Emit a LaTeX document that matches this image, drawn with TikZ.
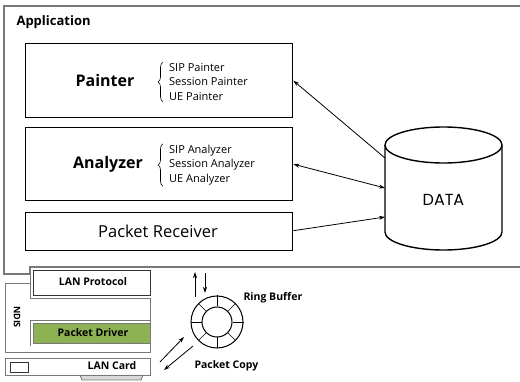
\documentclass[tikz,border=0pt]{standalone}
\usepackage{fontspec}
\setmainfont{Open Sans}
\newfontfamily\datafont{Poppins}
\usetikzlibrary{arrows.meta}
\usetikzlibrary{decorations.pathreplacing}
\usetikzlibrary{calc}
\definecolor{frame}{RGB}{120,120,120}
\definecolor{driver}{RGB}{141,178,84}
\tikzset{
	box/.style={draw,line width=1.4pt,anchor=north west,inner sep=0pt},
	hwbox/.style={draw=black!80,line width=0.9pt,anchor=north west,inner sep=0pt},
	gframe/.style={draw=frame,line width=1.2pt},
	title/.style={font=\fontsize{16}{18}\selectfont\bfseries},
	itemlist/.style={font=\fontsize{11}{14.5}\selectfont,align=left,anchor=west,inner sep=1pt},
	hwtext/.style={font=\fontsize{10.5}{12}\selectfont\bfseries},
	arr/.style={-{Stealth[length=6pt,width=4pt]},line width=0.8pt},
	dblarr/.style={{Stealth[length=6pt,width=4pt]}-{Stealth[length=6pt,width=4pt]},line width=0.8pt},
	lbrace/.style={decorate,decoration={brace,amplitude=5pt},line width=0.6pt}
}

\begin{document}
\begin{tikzpicture}[x=1pt,y=-1pt]
	\useasboundingbox (0,0) rectangle (520,382);

	% application frame
	\draw[gframe] (521,6) -- (4,6) -- (4,274) -- (30,274) -- (30,267) -- (521,267);
	\node[anchor=west,font=\fontsize{13}{15}\selectfont\bfseries] (app) at (13,22) {Application};

	\node[box,minimum width=267pt,minimum height=74pt] (painter) at (25,43) {};
	\node[title] (paintertxt) at (105,81) {Painter};
	\node[itemlist] (painterlist) at (168,82) {SIP Painter\\Session Painter\\UE Painter};
	\draw[lbrace] ([xshift=-5pt]painterlist.south west) -- ([xshift=-5pt]painterlist.north west);

	\node[box,minimum width=267pt,minimum height=73pt] (analyzer) at (25,127) {};
	\node[title] (analyzertxt) at (108,164) {Analyzer};
	\node[itemlist] (analyzerlist) at (168,165) {SIP Analyzer\\Session Analyzer\\UE Analyzer};
	\draw[lbrace] ([xshift=-5pt]analyzerlist.south west) -- ([xshift=-5pt]analyzerlist.north west);

	\node[box,minimum width=267pt,minimum height=38pt] (receiver) at (25,212) {};
	\node[font=\fontsize{16.5}{19}\selectfont] (receivertxt) at (158,231) {Packet Receiver};

	% data store
	\draw[line width=1.4pt,fill=white] (385,145) -- (385,232) arc[start angle=180,end angle=360,x radius=58.5pt,y radius=18pt] -- (502,145);
	\draw[line width=1.4pt] (443.5,145) ellipse[x radius=58.5pt,y radius=18pt];
	\node[font=\datafont\fontsize{16}{18}\selectfont] (data) at (443.5,200) {DATA};
	\coordinate (dbtop) at (385,158);
	\coordinate (dbmid) at (385,188);
	\coordinate (dblow) at (385,217);

	\draw[arr] (dbtop) -- (painter.east);
	\draw[dblarr] (analyzer.east) -- (dbmid);
	\draw[arr] ([yshift=1pt]receiver.east) -- (dblow);

	% NDIS
	\draw[gframe,line width=0.9pt] (30,267) -- (30,298) -- (150,298) -- (150,352) -- (5,352) -- (5,283) -- (30,283);
	\node[hwbox,minimum width=117pt,minimum height=25pt] (lanproto) at (33,270) {};
	\node[hwtext] (lanprototxt) at (93,282) {LAN Protocol};
	\node[rotate=-90,font=\fontsize{9}{11}\selectfont\bfseries] (ndis) at (17,317) {NDIS};
	\draw[gframe,line width=0.9pt] (30,346) -- (30,320) -- (150,320);
	\node[hwbox,fill=driver,draw=frame,minimum width=117pt,minimum height=20pt] (driver) at (33,323) {};
	\node[hwtext] (drivertxt) at (93,333) {Packet Driver};

	% LAN card
	\filldraw[draw=frame,fill=black!15,line width=0.9pt] (80,375) -- (82,380) -- (141,380) -- (143,375);
	\node[hwbox,draw=frame,minimum width=145pt,minimum height=17pt] (lancard) at (5,358) {};
	\draw[line width=0.9pt,draw=black!80] (10,362) rectangle (28,372);
	\node[hwtext] (lancardtxt) at (112,366) {LAN Card};

	% ring buffer
	\node[circle,draw,line width=1pt,minimum size=52pt,inner sep=0pt] (ring) at (217,322) {};
	\node[circle,draw,line width=1pt,minimum size=30pt,inner sep=0pt] (ringin) at (ring) {};
	\foreach \a in {0,45,...,315}
		\draw[line width=0.7pt] (ringin.\a) -- (ring.\a);
	\node[hwtext,anchor=west] (ringtxt) at (240,298) {Ring Buffer};
	\node[hwtext,anchor=west] (copytxt) at (191,366) {Packet Copy};

	\coordinate (upfrom) at (195,297);
	\coordinate (upto) at (195,272);
	\coordinate (downfrom) at (205,273);
	\coordinate (downto) at (205,293);
	\draw[arr] (upfrom) -- (upto);
	\draw[arr] (downfrom) -- (downto);

	\coordinate (cpin1) at (160,362);
	\coordinate (cpin2) at (184,337);
	\coordinate (cpout1) at (193,346);
	\coordinate (cpout2) at (164,370);
	\draw[arr] (cpin1) -- (cpin2);
	\draw[arr] (cpout1) -- (cpout2);
\end{tikzpicture}
\end{document}
